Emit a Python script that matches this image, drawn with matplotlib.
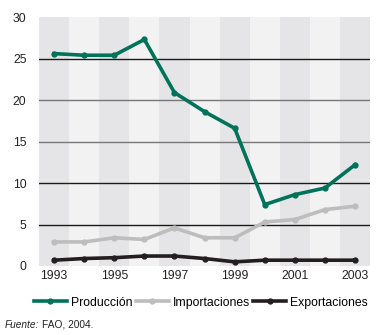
import matplotlib
matplotlib.use("Agg")
from matplotlib import pyplot as plt
import numpy as np

plt.rcParams['font.family'] = ['Liberation Sans', 'DejaVu Sans']

years = [1993, 1994, 1995, 1996, 1997, 1998, 1999, 2000, 2001, 2002, 2003]
produccion = [25.6, 25.4, 25.4, 27.3, 20.9, 18.6, 16.6, 7.4, 8.6, 9.4, 12.2]
importaciones = [2.9, 2.9, 3.4, 3.2, 4.6, 3.4, 3.4, 5.3, 5.6, 6.8, 7.2]
exportaciones = [0.7, 0.9, 1.0, 1.2, 1.2, 0.9, 0.5, 0.7, 0.7, 0.7, 0.7]
year_labels = [1993, 1995, 1997, 1999, 2001, 2003]
y_ticks = [0, 5, 10, 15, 20, 25, 30]

fig = plt.figure(figsize=(3.9, 3.35), dpi=100)
ax = fig.add_axes([0.1, 0.206, 0.849, 0.743])

# alternating column bands
for i, yr in enumerate(years):
	c = '#e5e5e7' if i % 2 == 0 else '#f2f2f2'
	ax.axvspan(yr - 0.5, yr + 0.5, color=c, lw=0, zorder=0)

# horizontal grid lines
grid_col = {5: '#1a1a1a', 10: '#1a1a1a', 15: '#777777', 20: '#777777', 25: '#1a1a1a'}
for v, c in grid_col.items():
	ax.axhline(v, color=c, lw=1.0, zorder=1)

ax.plot(years, importaciones, color='#bdbdbd', lw=2.6, marker='o', ms=3.5, label='Importaciones', zorder=3)
ax.plot(years, exportaciones, color='#231f20', lw=2.6, marker='o', ms=3.5, label='Exportaciones', zorder=4)
ax.plot(years, produccion, color='#00735a', lw=2.6, marker='o', ms=3.5, label='Producción', zorder=5)

ax.set_xlim(1992.5, 2003.5)
ax.set_ylim(0, 30)
ax.set_xticks(year_labels)
ax.set_yticks(y_ticks)
ax.tick_params(length=0, labelsize=8.8, colors='#222222')
ax.tick_params(axis='y', pad=9)
ax.tick_params(axis='x', pad=3)
for s in ax.spines.values():
	s.set_visible(False)

h, l = ax.get_legend_handles_labels()
order = [2, 0, 1]
fig.legend([h[i] for i in order], [l[i] for i in order], loc='center', bbox_to_anchor=(0.515, 0.097),
		   ncol=3, frameon=False, fontsize=8.8, handlelength=2.7, handletextpad=0.3, columnspacing=0.3)

fig.text(0.012, 0.022, 'Fuente:', fontsize=7.3, style='italic', color='#222222')
fig.text(0.108, 0.022, 'FAO, 2004.', fontsize=7.3, color='#222222')

fig.savefig('out.png', dpi=100)
